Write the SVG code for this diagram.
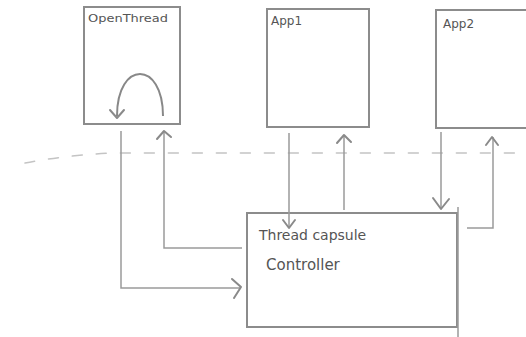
<svg xmlns="http://www.w3.org/2000/svg" width="526" height="337" viewBox="0 0 526 337">
<style>
.box{fill:#fff;stroke:#8c8c8c;stroke-width:2}
.ln{fill:none;stroke:#9a9a9a;stroke-width:1.5}
.ah{fill:none;stroke:#8a8a8a;stroke-width:2;stroke-linecap:round;stroke-linejoin:round}
.t{font-family:"DejaVu Sans",sans-serif;fill:#555}
.dash{fill:none;stroke:#c4c4c4;stroke-width:1.5;stroke-dasharray:10 14;stroke-linecap:round}
</style>
<rect width="526" height="337" fill="#fff"/>
<path class="dash" d="M25 163 Q60 156 110 153 L526 153"/>
<g id="openthread">
<rect class="box" x="84" y="7" width="96" height="117"/>
<text class="t" x="88" y="22" font-size="11" textLength="80" lengthAdjust="spacingAndGlyphs">OpenThread</text>
<path class="ln" style="stroke:#888;stroke-width:2" d="M117 116 C117 60 163 60 163 116"/>
<path class="ah" d="M110 110 L117 118 L124 110"/>
</g>
<g id="app1">
<rect class="box" x="267" y="9" width="102" height="118"/>
<text class="t" x="271" y="25" font-size="12">App1</text>
</g>
<g id="app2">
<rect class="box" x="436" y="10" width="100" height="118"/>
<text class="t" x="443" y="28" font-size="12">App2</text>
</g>
<g id="controller">
<rect class="box" x="247" y="213" width="210" height="114"/>
<line class="ln" x1="458" y1="207" x2="458" y2="337"/>
<text class="t" x="259" y="240" font-size="14">Thread capsule</text>
<text class="t" x="266" y="270" font-size="15">Controller</text>
</g>
<g id="connectors">
<path class="ln" d="M121 131 L121 288 L240 288"/>
<path class="ah" d="M232 279 L241 287 L234 298"/>
<path class="ln" d="M164 131 L164 248 L242 248"/>
<path class="ah" d="M157 139 L164 131 L171 137"/>
<path class="ln" d="M289 133 L289 227"/>
<path class="ah" d="M283 220 L289 228 L295 220"/>
<path class="ln" d="M344 210 L344 136"/>
<path class="ah" d="M337 143 L344 135 L351 142"/>
<path class="ln" d="M441 132 L441 208"/>
<path class="ah" d="M433 198 L441 209 L449 199"/>
<path class="ln" d="M467 228 L493 228 L493 137"/>
<path class="ah" d="M486 145 L492 137 L498 145"/>
</g>
</svg>
